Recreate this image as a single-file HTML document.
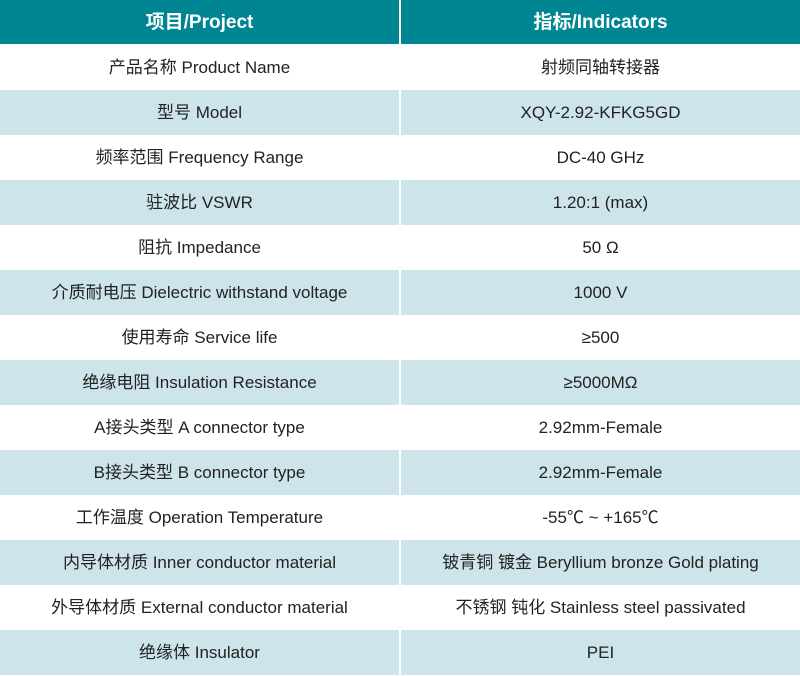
<!DOCTYPE html>
<html><head><meta charset="utf-8"><style>
html,body{margin:0;padding:0;background:#fff;}
body{width:800px;height:675px;overflow:hidden;font-family:"Liberation Sans","Noto Sans CJK SC",sans-serif;}
.r{position:absolute;left:0;width:800px;height:45px;}
.c{position:absolute;top:0;height:45px;line-height:46px;text-align:center;font-size:17px;color:#222;}
.l{left:0;width:399px;}
.rt{left:401px;width:399px;}
.h .c{background:#008593;color:#fff;font-size:19px;font-weight:bold;}
.b .c{background:#cde4ea;}
</style></head><body>
<div class="r h" style="top:0;height:44px"><div class="c l" style="height:44px;line-height:46px">项目/Project</div><div class="c rt" style="height:44px;line-height:46px">指标/Indicators</div></div>
<div class="r" style="top:45px"><div class="c l">产品名称 Product Name</div><div class="c rt">射频同轴转接器</div></div>
<div class="r b" style="top:90px"><div class="c l">型号 Model</div><div class="c rt">XQY-2.92-KFKG5GD</div></div>
<div class="r" style="top:135px"><div class="c l">频率范围 Frequency Range</div><div class="c rt">DC-40 GHz</div></div>
<div class="r b" style="top:180px"><div class="c l">驻波比 VSWR</div><div class="c rt">1.20:1 (max)</div></div>
<div class="r" style="top:225px"><div class="c l">阻抗 Impedance</div><div class="c rt">50 Ω</div></div>
<div class="r b" style="top:270px"><div class="c l">介质耐电压 Dielectric withstand voltage</div><div class="c rt">1000 V</div></div>
<div class="r" style="top:315px"><div class="c l">使用寿命 Service life</div><div class="c rt">≥500</div></div>
<div class="r b" style="top:360px"><div class="c l">绝缘电阻 Insulation Resistance</div><div class="c rt">≥5000MΩ</div></div>
<div class="r" style="top:405px"><div class="c l">A接头类型 A connector type</div><div class="c rt">2.92mm-Female</div></div>
<div class="r b" style="top:450px"><div class="c l">B接头类型 B connector type</div><div class="c rt">2.92mm-Female</div></div>
<div class="r" style="top:495px"><div class="c l">工作温度 Operation Temperature</div><div class="c rt">-55℃ ~ +165℃</div></div>
<div class="r b" style="top:540px"><div class="c l">内导体材质 Inner conductor material</div><div class="c rt">铍青铜 镀金 Beryllium bronze Gold plating</div></div>
<div class="r" style="top:585px"><div class="c l">外导体材质 External conductor material</div><div class="c rt">不锈钢 钝化 Stainless steel passivated</div></div>
<div class="r b" style="top:630px"><div class="c l">绝缘体 Insulator</div><div class="c rt">PEI</div></div>
</body></html>
